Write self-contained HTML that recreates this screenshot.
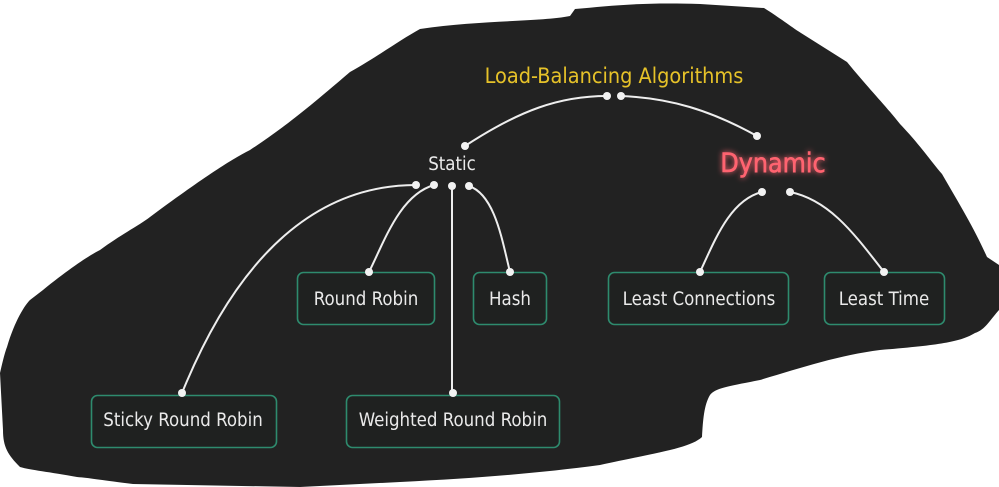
<!DOCTYPE html>
<html><head><meta charset="utf-8"><style>
html,body{margin:0;padding:0;background:#fff;}
svg{display:block}
text{font-family:"DejaVu Sans Condensed","Liberation Sans",sans-serif;}
</style></head><body>
<svg width="999" height="487" viewBox="0 0 999 487" xmlns="http://www.w3.org/2000/svg">
<defs>
<filter id="glow" x="-20%" y="-50%" width="140%" height="200%">
<feGaussianBlur stdDeviation="3" result="b"/>
<feMerge><feMergeNode in="b"/><feMergeNode in="SourceGraphic"/></feMerge>
</filter>
</defs>
<path fill="#222222" d="M350,72 C380,55 400,40 420,29 C480,20 540,22 570,16 L575,9 C610,6 640,2 700,4 L764,8 C780,18 790,26 801,33 L847,62 C870,90 885,105 900,124 C920,145 930,160 942,174 C960,205 975,230 987,257 L999,265 L999,310 C990,320 985,330 975,333 C960,342 940,345 880,350 C840,355 800,368 760,380 C730,386 715,388 710,395 C704,405 703,420 702,437 C690,448 660,452 600,465 C540,473 480,478 400,482 L300,487 L133,484 C100,480 90,478 77,477 C50,472 30,470 20,467 C8,455 3,447 3,430 L0,373 C3,360 5,352 7,347 C15,320 25,305 30,300 L43,290 C70,268 90,255 100,250 C120,235 140,225 150,217 C200,180 230,160 250,150 C280,130 300,115 350,72 Z"/>
<g fill="none" stroke="#eeeeee" stroke-width="2">
<path d="M465,146 C520,110 560,96 607,96"/>
<path d="M621,96 C670,98 710,110 757,136"/>
<path d="M416,185 C320,185 240,250 182,393"/>
<path d="M434,185 C400,195 385,240 369,272"/>
<path d="M452,186 L452,393"/>
<path d="M469,186 C495,195 502,240 510,272"/>
<path d="M762,192 C730,200 715,240 700,272"/>
<path d="M790,192 C830,200 855,235 884,272"/>
</g>
<g fill="#f2f2f2">
<circle cx="607" cy="96" r="4"/><circle cx="621" cy="96" r="4"/>
<circle cx="465" cy="146" r="4"/><circle cx="757" cy="136" r="4"/>
<circle cx="416" cy="185" r="4"/><circle cx="434" cy="185" r="4"/><circle cx="452" cy="186" r="4"/><circle cx="469" cy="186" r="4"/>
<circle cx="762" cy="192" r="4"/><circle cx="790" cy="192" r="4"/>
</g>
<g fill="#1f2120" stroke="#2e8b6e" stroke-width="1.6">
<rect x="297.5" y="272.5" width="137" height="52" rx="6"/>
<rect x="473.5" y="272.5" width="73" height="52" rx="6"/>
<rect x="608.5" y="272.5" width="180" height="52" rx="6"/>
<rect x="824.5" y="272.5" width="120" height="52" rx="6"/>
<rect x="91.5" y="395.5" width="185" height="52" rx="6"/>
<rect x="346.5" y="395.5" width="213" height="52" rx="6"/>
</g>
<g fill="#f2f2f2">
<circle cx="369" cy="272" r="4"/><circle cx="510" cy="272" r="4"/>
<circle cx="700" cy="272" r="4"/><circle cx="884" cy="272" r="4"/>
<circle cx="182" cy="393" r="4"/><circle cx="453" cy="393" r="4"/>
</g>
<g fill="#eaeaea" font-size="18.5" text-anchor="middle">
<text x="366" y="305">Round Robin</text>
<text x="510" y="305">Hash</text>
<text x="699" y="305">Least Connections</text>
<text x="884" y="305">Least Time</text>
<text x="183" y="426">Sticky Round Robin</text>
<text x="453" y="426">Weighted Round Robin</text>
<text x="452" y="170">Static</text>
</g>
<text x="614" y="83" fill="#e6c229" font-size="21.5" text-anchor="middle">Load-Balancing Algorithms</text>
<text x="773" y="172" fill="#ff6470" font-size="26.5" text-anchor="middle" filter="url(#glow)" stroke="#ff6470" stroke-width="0.6">Dynamic</text>
</svg>
</body></html>
